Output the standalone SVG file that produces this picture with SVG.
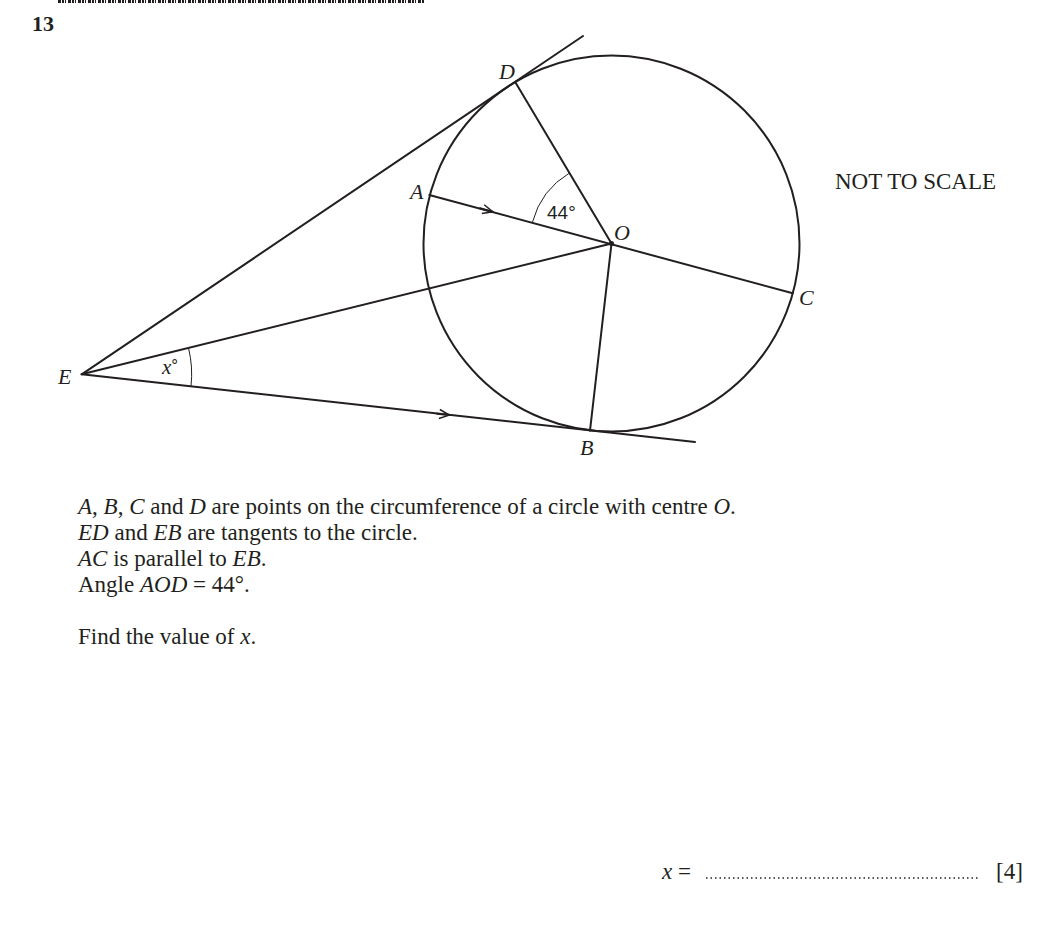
<svg xmlns="http://www.w3.org/2000/svg" width="1056" height="930" viewBox="0 0 1056 930">
<style>
.ln{stroke:#231f20;stroke-width:2;fill:none;stroke-linecap:round}
.thin{stroke:#231f20;stroke-width:1;fill:none}
.t{font-family:"Liberation Serif","Times New Roman",serif;font-size:23px;fill:#231f20}
.i{font-style:italic}
.lbl{font-family:"Liberation Serif","Times New Roman",serif;font-size:22px;font-style:italic;fill:#231f20}
.ang{font-family:"Liberation Sans",Arial,sans-serif;font-size:19px;fill:#231f20}
</style>
<defs>
<marker id="chev" markerUnits="userSpaceOnUse" viewBox="-11 -6 13 12" refX="0" refY="0" markerWidth="13" markerHeight="12" orient="auto">
<path d="M-10,-4.5 L0,0 L-10,4.5" fill="none" stroke="#231f20" stroke-width="1.5"/>
</marker>
</defs>
<rect width="1056" height="930" fill="#fff"/>
<line x1="58" y1="1.5" x2="424" y2="1.5" stroke="#231f20" stroke-width="3" stroke-dasharray="3 1 2 1 1 2"/>
<text x="32" y="31" class="t" style="font-weight:bold;font-size:22px">13</text>

<g id="circle"><circle cx="611.5" cy="243.5" r="188" class="ln"/></g>

<g id="connectors">
<line x1="81.7" y1="374.3" x2="583" y2="36" class="ln"/>
<line x1="81.7" y1="374.3" x2="695" y2="442" class="ln"/>
<line x1="81.7" y1="374.3" x2="611.5" y2="243.5" class="ln"/>
<line x1="429.3" y1="195" x2="792.7" y2="293.3" class="ln"/>
<line x1="611.5" y1="243.5" x2="515.2" y2="81.9" class="ln"/>
<line x1="611.5" y1="243.5" x2="590" y2="430.7" class="ln"/>
<path d="M480,208.3 L492.7,211.7" class="ln" marker-end="url(#chev)"/>
<path d="M437,413.7 L449.3,415.1" class="ln" marker-end="url(#chev)"/>
<path d="M532.4,222.3 A82,82 0 0 1 569.6,172.9" class="thin"/>
<path d="M188.5,348 A110,110 0 0 1 191,386.4" class="thin"/>
<circle cx="611.5" cy="243.5" r="2.5" fill="#231f20"/>
</g>

<g id="labels">
<text x="499" y="79" class="lbl">D</text>
<text x="410" y="199" class="lbl">A</text>
<text x="614" y="240" class="lbl">O</text>
<text x="799" y="305" class="lbl">C</text>
<text x="580" y="455" class="lbl">B</text>
<text x="58" y="384" class="lbl">E</text>
<text x="547" y="219" class="ang">44°</text>
<text x="162" y="374" class="lbl" style="font-size:21px">x<tspan style="font-style:normal;font-family:'Liberation Sans',Arial,sans-serif;font-size:17px" dy="-3">°</tspan></text>
<text x="835" y="189" class="t">NOT TO SCALE</text>
</g>

<g id="question">
<text x="78" y="514" class="t"><tspan class="i">A</tspan>, <tspan class="i">B</tspan>, <tspan class="i">C</tspan> and <tspan class="i">D</tspan> are points on the circumference of a circle with centre <tspan class="i">O</tspan>.</text>
<text x="78" y="540" class="t"><tspan class="i">ED</tspan> and <tspan class="i">EB</tspan> are tangents to the circle.</text>
<text x="78" y="566" class="t"><tspan class="i">AC</tspan> is parallel to <tspan class="i">EB</tspan>.</text>
<text x="78" y="592" class="t">Angle <tspan class="i">AOD</tspan> = 44°.</text>
<text x="78" y="644" class="t">Find the value of <tspan class="i">x</tspan>.</text>
<text x="662" y="879" class="t"><tspan class="i">x</tspan> =</text>
<line x1="706" y1="878" x2="978" y2="878" stroke="#231f20" stroke-width="1.5" stroke-dasharray="1.5 3"/>
<text x="996" y="879" class="t">[4]</text>
</g>
</svg>
